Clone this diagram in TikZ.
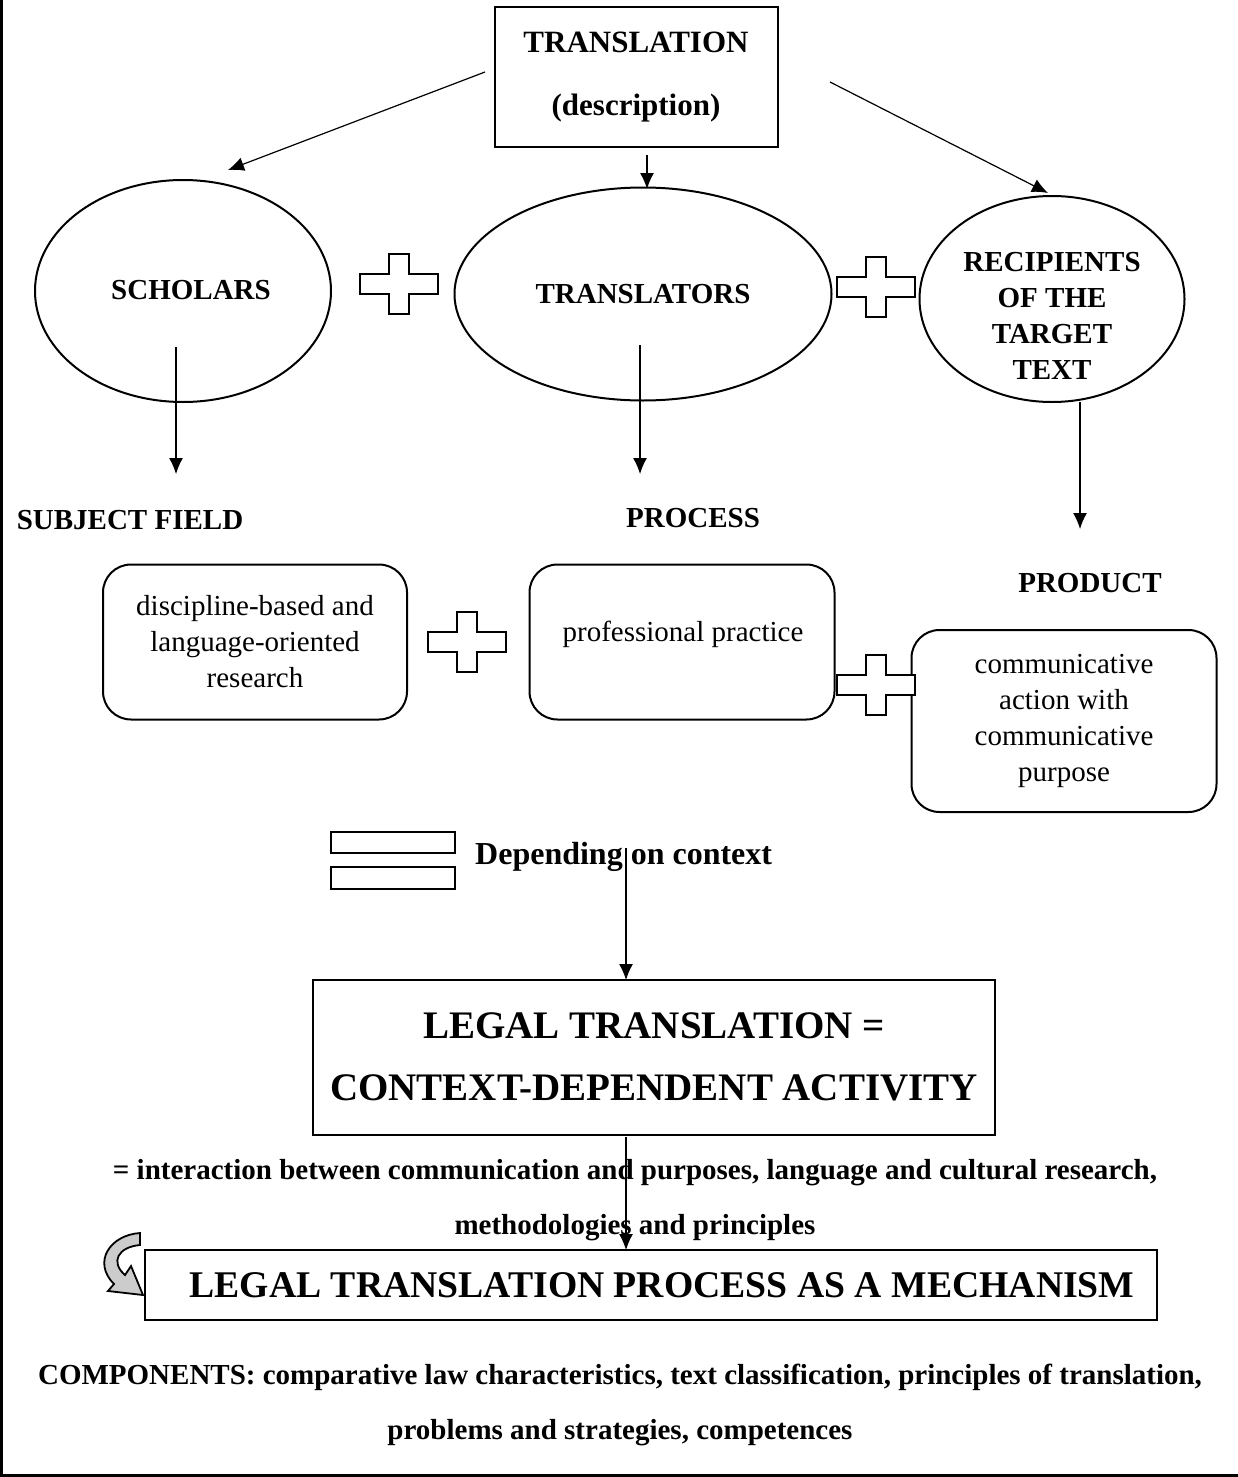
\documentclass[tikz,border=0pt]{standalone}
\usepackage{fontspec}
\setmainfont{Liberation Serif}
\usepackage{tikz}
\usetikzlibrary{shapes.geometric, positioning, arrows.meta}
\tikzstyle{titlebox} = [rectangle, draw=black, line width=2pt, align=center, inner sep=0pt, font=\bfseries\fontsize{31}{36}\selectfont]
\tikzstyle{bigbox} = [rectangle, draw=black, line width=2pt, align=center, inner sep=0pt, font=\bfseries\fontsize{39}{46}\selectfont]
\tikzstyle{oval} = [ellipse, draw=black, line width=2pt, align=center, inner sep=0pt, font=\bfseries\fontsize{29}{36}\selectfont]
\tikzstyle{softbox} = [rectangle, rounded corners=28pt, draw=black, line width=2pt, align=center, inner sep=0pt, font=\fontsize{29}{36}\selectfont]
\tikzstyle{heading} = [align=center, inner sep=0pt, font=\bfseries\fontsize{29}{36}\selectfont]
\tikzstyle{note} = [align=center, inner sep=0pt, font=\bfseries\fontsize{29}{55}\selectfont]
\tikzstyle{arrow} = [line width=1.2pt, -{Latex[length=16pt,width=14pt]}]
\tikzstyle{cross} = [draw=black, fill=white, line width=2pt]
\newcommand{\plusmark}[2]{\draw [cross, shift={(#1,#2)}] (-39,-10) -- (-10,-10) -- (-10,-30) -- (10,-30) -- (10,-10) -- (39,-10) -- (39,10) -- (10,10) -- (10,30) -- (-10,30) -- (-10,10) -- (-39,10) -- cycle;}

\begin{document}
\begin{tikzpicture}[x=1pt, y=-1pt]
\useasboundingbox (0,0) rectangle (1238,1477);
\draw [line width=3pt] (1.5,0) -- (1.5,1475.5) -- (1238,1475.5);

% top of the tree
\node (trans) [titlebox, minimum width=283pt, minimum height=140pt] at (636,77) {TRANSLATION\\[27pt](description)};

\node (scholars) [oval, minimum width=296pt, minimum height=222pt] at (183,291) {};
\node at (191,290) [heading] {SCHOLARS};
\node (translators) [oval, minimum width=377pt, minimum height=213pt] at (643,294) {TRANSLATORS};
\node (recipients) [oval, minimum width=265pt, minimum height=206pt] at (1052,299) {};
\node at (1052,316) [heading] {RECIPIENTS\\OF THE\\TARGET\\TEXT};

\coordinate (leftfrom) at (485,72);
\coordinate (midfrom) at (647,155);
\coordinate (rightfrom) at (830,82);
\coordinate (leftto) at (228,170);
\coordinate (midto) at (647,189);
\coordinate (rightto) at (1048,193);
\draw [arrow] (leftfrom) -- (leftto);
\draw [arrow] (midfrom) -- (midto);
\draw [arrow] (rightfrom) -- (rightto);

\plusmark{399}{284}
\plusmark{876}{287}

% what each one sees
\node (field) [heading] at (130,520) {SUBJECT FIELD};
\node (process) [heading] at (693,518) {PROCESS};
\node (product) [heading] at (1090,583) {PRODUCT};

\coordinate (s1) at (176,347);
\coordinate (s2) at (176,474);
\coordinate (t1) at (640,345);
\coordinate (t2) at (640,474);
\coordinate (r1) at (1080,402);
\coordinate (r2) at (1080,529);
\draw [arrow] (s1) -- (s2);
\draw [arrow] (t1) -- (t2);
\draw [arrow] (r1) -- (r2);

\node (research) [softbox, minimum width=304pt, minimum height=155pt] at (255,642) {discipline-based and\\language-oriented\\research};
\node (practice) [softbox, minimum width=305pt, minimum height=155pt] at (682,642) {};
\node at (683,634) [align=center, font=\fontsize{29}{36}\selectfont] {professional practice};
\node (action) [softbox, minimum width=305pt, minimum height=182pt] at (1064,721) {communicative\\action with\\communicative\\purpose};

\plusmark{467}{642}
\plusmark{876}{685}

% equals and context
\draw [line width=2pt] (331,832) rectangle (455,853);
\draw [line width=2pt] (331,867) rectangle (455,889);
\node (context) [heading, anchor=west, font=\bfseries\fontsize{32}{36}\selectfont] at (475,857) {Depending on context};

\node (legal) [bigbox, minimum width=682pt, minimum height=155pt] at (654,1057) {LEGAL TRANSLATION =\\[16pt]CONTEXT-DEPENDENT ACTIVITY};
\coordinate (c1) at (626,848);
\coordinate (c2) at (626,980);
\draw [arrow] (c1) -- (c2);

\node (interaction) [note] at (635,1200) {= interaction between communication and purposes, language and cultural research,\\methodologies and principles};

\node (mechanism) [bigbox, minimum width=1012pt, minimum height=70pt] at (651,1285) {};
\node at (662,1285) [bigbox, draw=none, font=\bfseries\fontsize{37.7}{44}\selectfont] {LEGAL TRANSLATION PROCESS AS A MECHANISM};
\coordinate (l1) at (626,1137);
\coordinate (l2) at (626,1250);
\draw [arrow] (l1) -- (l2);

% curved arrow into the mechanism
\filldraw [fill=gray!40, line width=1.8pt] (140,1233) .. controls (110,1235) and (92,1262) .. (114,1284)
  -- (108,1291) -- (143,1295) -- (131,1266) -- (125,1275) .. controls (110,1262) and (118,1247) .. (140,1245) -- cycle;

\node (components) [note] at (620,1405) {COMPONENTS: comparative law characteristics, text classification, principles of translation,\\problems and strategies, competences};
\end{tikzpicture}
\end{document}
